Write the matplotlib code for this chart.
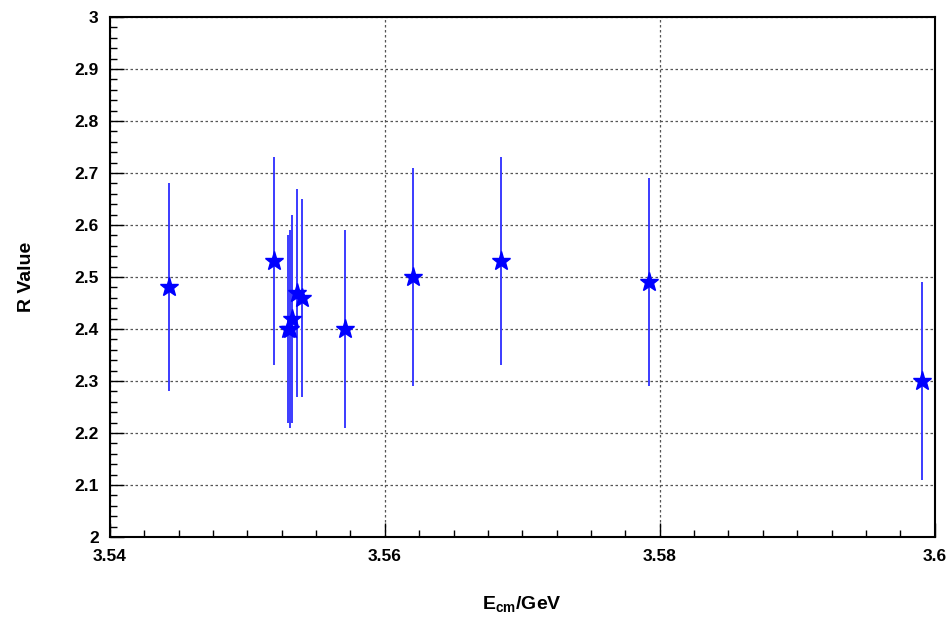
import matplotlib
matplotlib.use("Agg")
import matplotlib.pyplot as plt
from matplotlib.ticker import MultipleLocator, FormatStrFormatter

# centre-of-mass energy scan points
energy_gev = [3.54429, 3.55193, 3.55297, 3.55309, 3.55326, 3.55358, 3.55401,
              3.55709, 3.56204, 3.56844, 3.57920, 3.59905]
r_value = [2.48, 2.53, 2.40, 2.40, 2.42, 2.47, 2.46, 2.40, 2.50, 2.53, 2.49, 2.30]
r_error = [0.20, 0.20, 0.18, 0.19, 0.20, 0.20, 0.19, 0.19, 0.21, 0.20, 0.20, 0.19]

x_ticks = [3.54, 3.56, 3.58, 3.60]
x_tick_labels = ["3.54", "3.56", "3.58", "3.6"]

plt.rcParams["font.family"] = ["Liberation Sans", "DejaVu Sans"]
plt.rcParams["font.weight"] = "bold"

fig = plt.figure(figsize=(9.47, 6.19), dpi=100)
ax = fig.add_axes([0.116, 0.1325, 0.871, 0.8400])

ax.errorbar(energy_gev, r_value, yerr=r_error, fmt="none",
            ecolor="#3b3bff", elinewidth=1.4, capsize=0, zorder=3)
ax.plot(energy_gev, r_value, linestyle="none", marker="*", markersize=14,
        color="#0000ff", markeredgecolor="#0000ff", zorder=4)

ax.set_xlim(3.54, 3.60)
ax.set_ylim(2.0, 3.0)

ax.set_xticks(x_ticks)
ax.set_xticklabels(x_tick_labels, fontweight="bold")
ax.xaxis.set_minor_locator(MultipleLocator(0.0025))
ax.yaxis.set_major_locator(MultipleLocator(0.1))
ax.yaxis.set_major_formatter(FormatStrFormatter("%g"))
ax.yaxis.set_minor_locator(MultipleLocator(0.02))

ax.tick_params(which="both", direction="in", top=False, right=False)
ax.tick_params(which="major", length=10, width=1, labelsize=12.5)
ax.tick_params(axis="x", which="major", pad=9)
ax.tick_params(axis="y", which="major", pad=8)
ax.tick_params(which="minor", length=5, width=1)

ax.grid(True, which="major", axis="both", color="#555555",
        linestyle=(0, (2, 2)), linewidth=0.9)
ax.set_axisbelow(True)

for spine in ax.spines.values():
    spine.set_linewidth(1.5)

ax.set_ylabel("R Value", fontsize=14, fontweight="bold", labelpad=28)
ax.set_xlabel(r"E$_{\mathregular{cm}}$/GeV", fontsize=14, fontweight="bold", labelpad=22)

fig.savefig("out.png", dpi=100)
